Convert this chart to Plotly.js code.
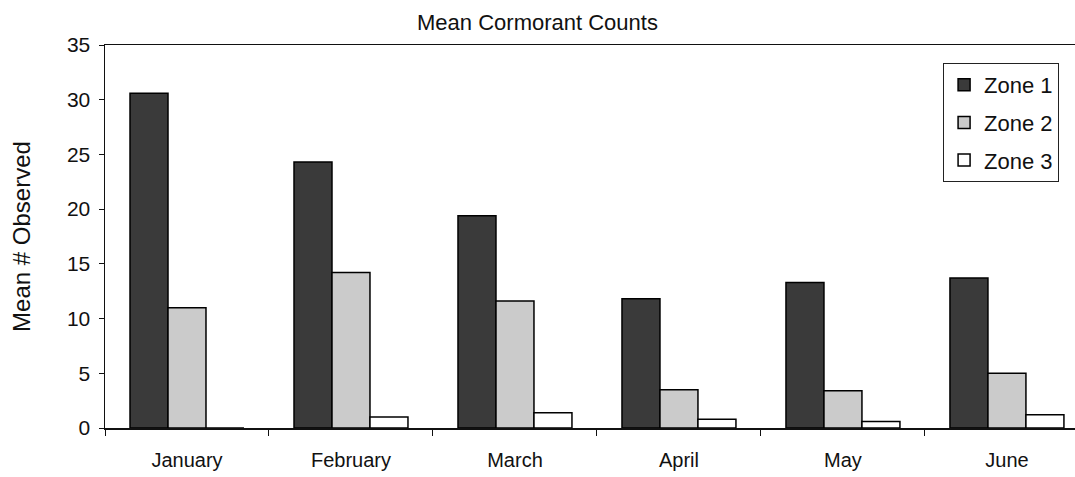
<!DOCTYPE html>
<html><head><meta charset="utf-8">
<script src="https://cdn.plot.ly/plotly-3.0.1.min.js"></script>
<style>html,body{margin:0;padding:0;background:#fff}</style>
</head><body>
<div id="chart" style="width:1075px;height:477px"></div>
<script>
const months = ["January","February","March","April","May","June"];
const zone1 = [30.6, 24.3, 19.4, 11.8, 13.3, 13.7];
const zone2 = [11.0, 14.2, 11.6, 3.5, 3.4, 5.0];
const zone3 = [0, 1.0, 1.4, 0.8, 0.6, 1.2];
const seriesNames = ["Zone 1","Zone 2","Zone 3"];
const yTicks = [0,5,10,15,20,25,30,35];

const colors = ["#3a3a3a","#cbcbcb","#ffffff"];
const traces = [zone1, zone2, zone3].map((vals, i) => ({
  type: "bar", x: months, y: vals, name: seriesNames[i],
  legendgroup: "g" + i,
  marker: {color: colors[i], line: {color: "#000", width: 1.5}},
  hoverinfo: "x+y+name"
}));

const layout = {
  width: 1075, height: 477,
  margin: {l: 105, r: 0, t: 45, b: 49},
  paper_bgcolor: "#fff", plot_bgcolor: "#fff",
  font: {family: "Liberation Sans, Arial, sans-serif", color: "#111"},
  title: {text: "Mean Cormorant Counts", font: {size: 22, color: "#111"}, x: 0.5, xanchor: "center", y: 0.953, yanchor: "middle"},
  barmode: "group", bargap: 0.305, bargroupgap: 0,
  xaxis: {
    type: "category", range: [-0.5, 5.415],
    showline: true, linecolor: "#111", linewidth: 1.5, mirror: true,
    ticks: "outside", tickson: "boundaries", ticklen: 6, tickcolor: "#111", tickwidth: 1,
    ticklabelstandoff: 13,
    tickfont: {size: 20, color: "#111"}, showgrid: false, zeroline: false, fixedrange: true
  },
  yaxis: {
    range: [0, 35], tickvals: yTicks,
    showline: true, linecolor: "#111", linewidth: 1.5,
    ticks: "outside", ticklen: 5, tickcolor: "#111", tickwidth: 1,
    ticklabelstandoff: 4,
    tickfont: {size: 21, color: "#111"}, showgrid: false, zeroline: false,
    title: {text: "Mean # Observed", font: {size: 24, color: "#111"}, standoff: 29}
  },
  showlegend: true,
  legend: {
    x: 0.864, xanchor: "left", y: 0.953, yanchor: "top",
    bgcolor: "#fff", bordercolor: "#222", borderwidth: 1,
    font: {size: 22, color: "#111"}, traceorder: "grouped", tracegroupgap: 6,
    itemwidth: 30
  }
};

Plotly.newPlot("chart", traces, layout, {displayModeBar: false, staticPlot: true});
</script>
</body></html>
